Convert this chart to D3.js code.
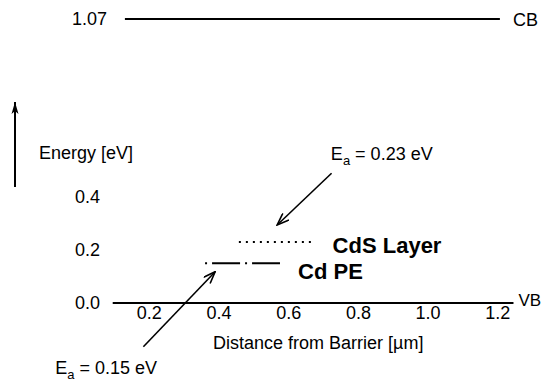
<!DOCTYPE html>
<html>
<head>
<meta charset="utf-8">
<script src="https://cdn.jsdelivr.net/npm/d3@7"></script>
<style>
  body { margin: 0; background: #fff; }
  svg text { font-family: "Liberation Sans", Arial, sans-serif; fill: #000; }
</style>
</head>
<body>
<svg id="chart"></svg>
<script>
const width = 544, height = 383;

// tick values
const xTicks = [0.2, 0.4, 0.6, 0.8, 1.0, 1.2];
const yTicks = [0.0, 0.2, 0.4];
const axisExtent = [0.095, 1.245];

// energy levels: name, energy, x start, x end
const levelNames = ["CB", "CdS Layer", "Cd PE"];
const levelEnergy = [1.07, 0.23, 0.15];
const levelStart = [0.13, 0.457, 0.36];
const levelEnd = [1.206, 0.675, 0.575];

// annotation arrows [x1, y1, x2, y2] in data units
const annoArrows = [
  [0.723, 0.489, 0.567, 0.294],
  [0.183, -0.165, 0.389, 0.118]
];
const annoLabels = ["0.23 eV", "0.15 eV"];
const annoPos = [[0.721, 0.539], [-0.07, -0.268]];

const svg = d3.select("#chart")
    .attr("width", width)
    .attr("height", height);

const x = d3.scaleLinear().domain([0, 1.3]).range([79.6, 79.6 + 348.5 * 1.3]);
const y = d3.scaleLinear().domain([0, 1.07]).range([303, 19]);

const defs = svg.append("defs");
defs.append("marker")
    .attr("id", "open")
    .attr("viewBox", "0 0 14 10")
    .attr("refX", 13).attr("refY", 5)
    .attr("markerWidth", 14).attr("markerHeight", 10)
    .attr("markerUnits", "userSpaceOnUse")
    .attr("orient", "auto")
    .append("path")
    .attr("d", "M1,0.5 L13,5 L1,9.5")
    .attr("fill", "none").attr("stroke", "#000").attr("stroke-width", 1.6);
defs.append("marker")
    .attr("id", "solid")
    .attr("viewBox", "0 0 12 8")
    .attr("refX", 12).attr("refY", 4)
    .attr("markerWidth", 12).attr("markerHeight", 8)
    .attr("markerUnits", "userSpaceOnUse")
    .attr("orient", "auto")
    .append("path")
    .attr("d", "M0,0.5 L12,4 L0,7.5 L3,4 Z")
    .attr("fill", "#000");

// x axis line
svg.append("line")
    .attr("x1", x(axisExtent[0])).attr("x2", x(axisExtent[1]))
    .attr("y1", y(0)).attr("y2", y(0))
    .attr("stroke", "#000").attr("stroke-width", 2);

svg.selectAll(".xtick")
    .data(xTicks)
    .join("text")
    .attr("class", "xtick")
    .attr("x", d => x(d))
    .attr("y", y(0) + 16)
    .attr("text-anchor", "middle")
    .style("font-size", "18px")
    .text(d => d.toFixed(1));

svg.selectAll(".ytick")
    .data(yTicks)
    .join("text")
    .attr("class", "ytick")
    .attr("x", 100)
    .attr("y", d => y(d))
    .attr("dy", "0.36em")
    .attr("text-anchor", "end")
    .style("font-size", "18px")
    .text(d => d.toFixed(1));

// energy levels
const dashes = [null, "2,5", "2,5,28,5"];
svg.selectAll(".level")
    .data(levelNames)
    .join("line")
    .attr("class", "level")
    .attr("x1", (d, i) => x(levelStart[i]))
    .attr("x2", (d, i) => x(levelEnd[i]))
    .attr("y1", (d, i) => y(levelEnergy[i]))
    .attr("y2", (d, i) => y(levelEnergy[i]))
    .attr("stroke", "#000")
    .attr("stroke-width", 2)
    .attr("stroke-dasharray", (d, i) => dashes[i]);

// CB / VB labels
svg.append("text")
    .attr("x", 107).attr("y", y(1.07)).attr("dy", "0.36em")
    .attr("text-anchor", "end")
    .style("font-size", "18px")
    .text("1.07");
svg.append("text")
    .attr("x", x(levelEnd[0]) + 13).attr("y", y(1.07)).attr("dy", "0.38em")
    .style("font-size", "18px")
    .text("CB");
svg.append("text")
    .attr("x", x(axisExtent[1]) + 5).attr("y", y(0) + 3)
    .style("font-size", "17px")
    .text("VB");

// bold layer labels
svg.append("text")
    .attr("x", x(0.726)).attr("y", 253)
    .style("font-size", "22px").style("font-weight", "bold")
    .text(levelNames[1]);
svg.append("text")
    .attr("x", x(0.627)).attr("y", 279)
    .style("font-size", "22px").style("font-weight", "bold")
    .text(levelNames[2]);

// annotation arrows + Ea labels
svg.selectAll(".anno")
    .data(annoArrows)
    .join("line")
    .attr("class", "anno")
    .attr("x1", d => x(d[0])).attr("y1", d => y(d[1]))
    .attr("x2", d => x(d[2])).attr("y2", d => y(d[3]))
    .attr("stroke", "#000").attr("stroke-width", 1.6)
    .attr("marker-end", "url(#open)");

annoLabels.forEach((lab, i) => {
  const t = svg.append("text")
      .attr("x", x(annoPos[i][0])).attr("y", y(annoPos[i][1]))
      .style("font-size", "18px");
  t.append("tspan").text("E");
  t.append("tspan").attr("dy", 5).style("font-size", "13px").text("a");
  t.append("tspan").attr("dy", -5).text(" = " + lab);
});

// axis titles
svg.append("text")
    .attr("x", 213).attr("y", 349)
    .style("font-size", "18px")
    .text("Distance from Barrier [µm]");
svg.append("text")
    .attr("x", 39).attr("y", 159)
    .style("font-size", "18px")
    .text("Energy [eV]");

// vertical energy arrow
svg.append("line")
    .attr("x1", 15).attr("x2", 15)
    .attr("y1", 187).attr("y2", 102)
    .attr("stroke", "#000").attr("stroke-width", 2)
    .attr("marker-end", "url(#solid)");
</script>
</body>
</html>
